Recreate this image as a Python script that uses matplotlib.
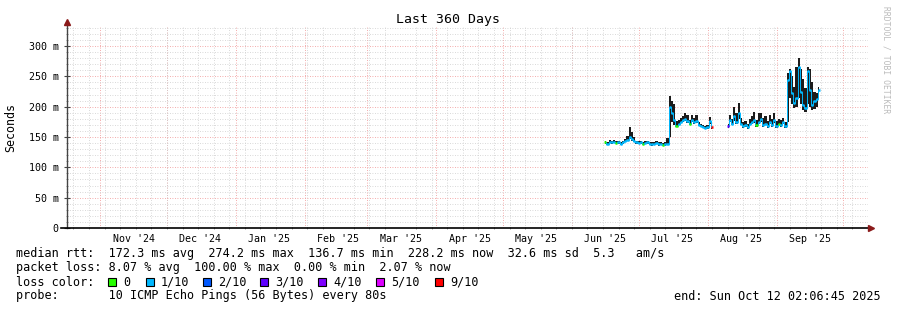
import numpy as np
import pandas as pd
import matplotlib
matplotlib.use('Agg')
import matplotlib.pyplot as plt
import matplotlib.dates as mdates
from matplotlib.ticker import MultipleLocator, FuncFormatter
from matplotlib.patches import Rectangle

plt.rcParams['font.family'] = ['DejaVu Sans Mono']

# graph window (last 360 days)
t_start = pd.Timestamp('2024-10-17 02:06:45')
t_end = pd.Timestamp('2025-10-12 02:06:45')

# block 1: Jun 16 - Aug 3 2025, daily values in ms
b1_start = '2025-06-16'
b1_med = [141, 139, 142, 141, 142, 140, 141, 139, 141, 143, 145, 150, 146, 143, 141,
          140, 141, 139, 140, 141, 139, 138, 139, 140, 138, 139, 137, 138, 139,
          200, 190, 178, 168, 172, 175, 178, 180, 176, 172, 178, 174, 176, 170, 168,
          167, 165, 166, 176, 166]
b1_lo = [139, 137, 140, 139, 140, 138, 139, 137, 139, 141, 143, 146, 143, 141, 139,
         138, 139, 137, 138, 139, 137, 136, 137, 138, 136, 137, 135, 136, 137,
         150, 175, 170, 166, 170, 173, 175, 177, 173, 170, 175, 171, 173, 168, 166,
         165, 163, 164, 172, 164]
b1_hi = [144, 142, 145, 144, 145, 143, 144, 142, 144, 147, 152, 167, 158, 150, 144,
         143, 144, 142, 143, 144, 142, 141, 142, 143, 141, 142, 140, 141, 148,
         217, 210, 205, 176, 178, 181, 184, 189, 186, 178, 186, 182, 186, 175, 172,
         170, 168, 170, 183, 168]
b1_loss = [0, 1, 1, 1, 1, 0, 1, 1, 1, 1, 1, 1, 1, 1, 1, 1, 1, 0, 1, 1, 1, 1, 1, 1, 1, 1, 0, 1, 1,
           1, 1, 1, 0, 1, 1, 1, 1, 1, 0, 1, 1, 1, 1, 1, 1, 1, 1, 1, 9]

# block 2: Aug 10 - Sep 20 2025
b2_start = '2025-08-10'
b2_med = [168, 178, 172, 185, 175, 190, 172, 168, 170, 167, 172, 175, 178, 170, 174,
          180, 170, 172, 168, 175, 170, 178, 168, 172, 170, 174, 168,
          244, 258, 222, 206, 215, 265, 225, 203, 198, 258, 228, 203, 210, 212, 228]
b2_lo = [165, 174, 169, 176, 171, 180, 169, 165, 167, 164, 169, 172, 173, 167, 171,
         175, 167, 169, 165, 171, 167, 173, 165, 169, 167, 171, 165,
         175, 215, 205, 198, 200, 215, 205, 195, 192, 205, 200, 195, 196, 200, 212]
b2_hi = [172, 186, 180, 200, 190, 206, 182, 174, 176, 172, 180, 184, 192, 178, 190,
         190, 182, 184, 176, 186, 180, 190, 176, 180, 178, 182, 175,
         255, 262, 250, 232, 265, 280, 262, 245, 230, 265, 262, 240, 225, 222, 232]
b2_loss = [3, 1, 1, 1, 1, 1, 1, 1, 1, 1, 1, 1, 1, 0, 1, 1, 1, 1, 1, 1, 1, 1, 1, 0, 1, 1, 1,
           1, 1, 1, 1, 1, 1, 1, 1, 1, 1, 1, 1, 1, 1, 1]

loss_levels = ['0', '1/10', '2/10', '3/10', '4/10', '5/10', '9/10']
loss_colors = {0: '#26ff00', 1: '#00b8ff', 2: '#0059ff', 3: '#5e00ff',
               4: '#7e00ff', 5: '#dd00ff', 9: '#ff0000'}
legend_keys = [0, 1, 2, 3, 4, 5, 9]

fig = plt.figure(figsize=(8.97, 3.10), dpi=100)
ax = fig.add_axes([67/897, (310-228)/310, 801/897, (228-26)/310])

half = pd.Timedelta(hours=12)
for start, med, lo, hi, loss in [(b1_start, b1_med, b1_lo, b1_hi, b1_loss),
                                 (b2_start, b2_med, b2_lo, b2_hi, b2_loss)]:
    d = pd.date_range(start, periods=len(med), freq='D')
    ax.fill_between(d, lo, hi, step='mid', color='#1c1c1c', lw=0, zorder=3)
    ax.plot(d, med, drawstyle='steps-mid', color=loss_colors[1], lw=0.7, zorder=4)
    for t, m, l in zip(d, med, loss):
        ax.hlines(m, t - half, t + half, color=loss_colors[l], lw=1.8, zorder=5)

ax.set_xlim(t_start, t_end)
ax.set_ylim(0, 333)

ax.yaxis.set_major_locator(MultipleLocator(50))
ax.yaxis.set_minor_locator(MultipleLocator(10))
ax.yaxis.set_major_formatter(FuncFormatter(lambda v, p: '0' if v == 0 else f'{v:.0f} m'))

ax.xaxis.set_major_locator(mdates.MonthLocator(bymonthday=16))
ax.xaxis.set_major_formatter(mdates.DateFormatter("%b '%y"))
ax.xaxis.set_minor_locator(mdates.WeekdayLocator(byweekday=mdates.SU))

ax.grid(which='minor', color='#cccccc', ls=(0, (1, 2)), lw=0.6, zorder=0)
ax.grid(which='major', axis='y', color='#f09090', ls=(0, (1, 2)), lw=0.6, zorder=1)
month_starts = pd.date_range('2024-11-01', '2025-10-01', freq='MS')
ax.vlines(month_starts, 0, 333, color='#f09090', ls=(0, (1, 2)), lw=0.6, zorder=1)

ax.tick_params(axis='y', which='major', labelsize=7.2, length=4, direction='inout',
               color='#444444', pad=4)
ax.tick_params(axis='y', which='minor', length=2, direction='inout', color='#888888')
ax.tick_params(axis='x', which='major', labelsize=7.2, length=0, pad=4)
ax.tick_params(axis='x', which='minor', length=2, direction='inout', color='#888888')

for s in ['top', 'right', 'left', 'bottom']:
    ax.spines[s].set_visible(False)
# axes with arrows
ax.plot([0, 0], [0, 1.015], transform=ax.transAxes, color='#444444', lw=1,
        clip_on=False, zorder=6)
ax.plot([0], [1.02], transform=ax.transAxes, marker='^', ms=4, color='#8b1a1a',
        clip_on=False, zorder=6)
ax.plot([-0.007, 1.003], [0, 0], transform=ax.transAxes, color='black', lw=1.2,
        clip_on=False, zorder=6)
ax.plot([1.004], [0], transform=ax.transAxes, marker='>', ms=4, color='#8b1a1a',
        clip_on=False, zorder=6)

ax.set_ylabel('Seconds', fontsize=8.4, labelpad=8)

fig.text(448/897, 1 - 19/310, 'Last 360 Days', ha='center', va='center', fontsize=9.5)
fig.text(886/897, 1 - 60/310, 'RRDTOOL / TOBI OETIKER', rotation=270, ha='center',
         va='center', fontsize=5.8, color='#bbbbbb')

fs = 8.5
fig.text(16/897, 1 - 254/310,
         'median rtt:  172.3 ms avg  274.2 ms max  136.7 ms min  228.2 ms now  32.6 ms sd  5.3   am/s',
         ha='left', va='center', fontsize=fs)
fig.text(16/897, 1 - 268/310,
         'packet loss: 8.07 % avg  100.00 % max  0.00 % min  2.07 % now',
         ha='left', va='center', fontsize=fs)
fig.text(16/897, 1 - 282/310, 'loss color:', ha='left', va='center', fontsize=fs)
box_x = [108, 146, 203, 260, 318, 376, 435]
for bx, key, lab in zip(box_x, legend_keys, loss_levels):
    fig.patches.append(Rectangle((bx/897, 1 - 286/310), 8/897, 8/310,
                                 transform=fig.transFigure, facecolor=loss_colors[key],
                                 edgecolor='black', lw=0.8))
    fig.text((bx + 15)/897, 1 - 282/310, lab, ha='left', va='center', fontsize=fs)
fig.text(16/897, 1 - 296/310, 'probe:       10 ICMP Echo Pings (56 Bytes) every 80s',
         ha='left', va='center', fontsize=fs)
fig.text(881/897, 1 - 296/310, 'end: Sun Oct 12 02:06:45 2025', ha='right', va='center',
         fontsize=fs)

fig.savefig('out.png', dpi=100)
